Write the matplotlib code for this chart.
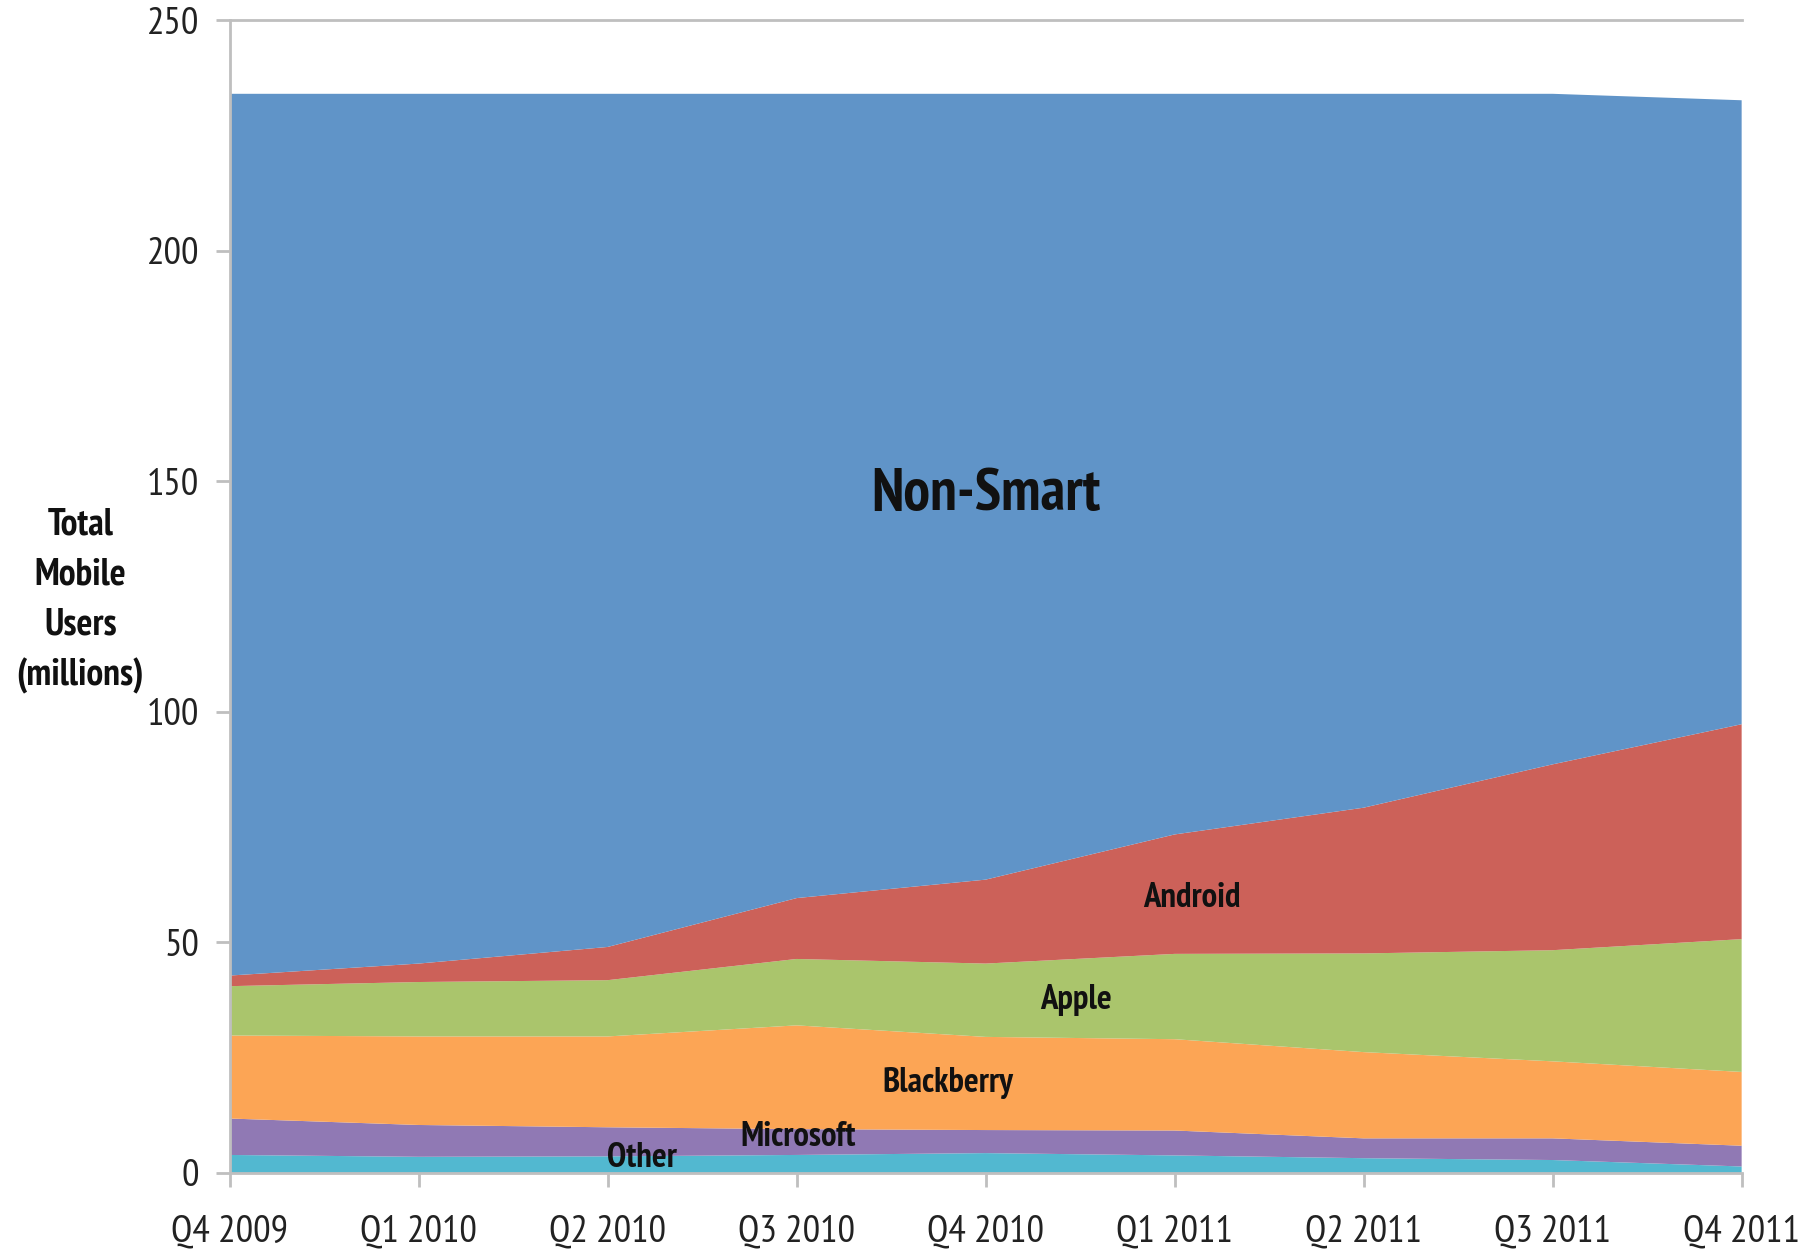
import matplotlib
matplotlib.use("Agg")
import matplotlib.pyplot as plt

plt.rcParams["font.family"] = ["PT Sans Narrow", "DejaVu Sans"]

quarters = ["Q4 2009", "Q1 2010", "Q2 2010", "Q3 2010", "Q4 2010",
            "Q1 2011", "Q2 2011", "Q3 2011", "Q4 2011"]
other = [3.9, 3.5, 3.6, 3.9, 4.3, 3.8, 3.2, 2.8, 1.4]
microsoft = [7.9, 6.9, 6.3, 5.6, 5.0, 5.4, 4.3, 4.7, 4.5]
blackberry = [18.0, 19.2, 19.7, 22.5, 20.2, 19.8, 18.7, 16.7, 16.0]
apple = [10.7, 11.8, 12.2, 14.4, 15.9, 18.5, 21.4, 24.1, 28.8]
android = [2.3, 4.0, 7.2, 13.2, 18.2, 25.9, 31.6, 40.3, 46.6]
non_smart = [191.2, 188.6, 185.0, 174.4, 170.4, 160.6, 154.8, 145.4, 135.3]

colors = ["#52b8d0", "#9079b4", "#fca555", "#aac56c", "#cc6159", "#6094c8"]

fig = plt.figure(figsize=(18.18, 12.51), dpi=100)
ax = fig.add_axes([0.1263, 0.0624, 0.8317, 0.9216])

x = list(range(len(quarters)))
ax.stackplot(x, other, microsoft, blackberry, apple, android, non_smart,
             colors=colors, linewidth=0)

ax.set_xlim(0, len(quarters) - 1)
ax.set_ylim(0, 250)
ax.set_xticks(x)
ax.set_xticklabels(quarters)
ax.set_yticks(range(0, 251, 50))
ax.axhline(250, color="#bfbfbf", lw=2, clip_on=False)

for s in ["top", "right"]:
    ax.spines[s].set_visible(False)
for s in ["left", "bottom"]:
    ax.spines[s].set_color("#bfbfbf")
    ax.spines[s].set_linewidth(2)
ax.tick_params(axis="both", colors="#bfbfbf", width=2, length=10,
               labelsize=28, labelcolor="#222222")
ax.tick_params(axis="x", pad=20)
ax.tick_params(axis="y", pad=12)

ax.text(-0.79, 124, "Total\nMobile\nUsers\n(millions)", ha="center", va="center",
        fontsize=27, fontweight="bold", color="#111111", linespacing=1.55)

ax.text(4.0, 147, "Non-Smart", ha="center", va="center", fontsize=43,
        fontweight="bold", color="#111111")
small = dict(ha="center", va="center", fontsize=25, fontweight="bold", color="#111111")
ax.text(5.09, 59.7, "Android", **small)
ax.text(4.48, 37.6, "Apple", **small)
ax.text(3.80, 19.6, "Blackberry", **small)
ax.text(3.01, 7.9, "Microsoft", **small)
ax.text(2.18, 3.3, "Other", **small)

fig.savefig("out.png", dpi=100)
